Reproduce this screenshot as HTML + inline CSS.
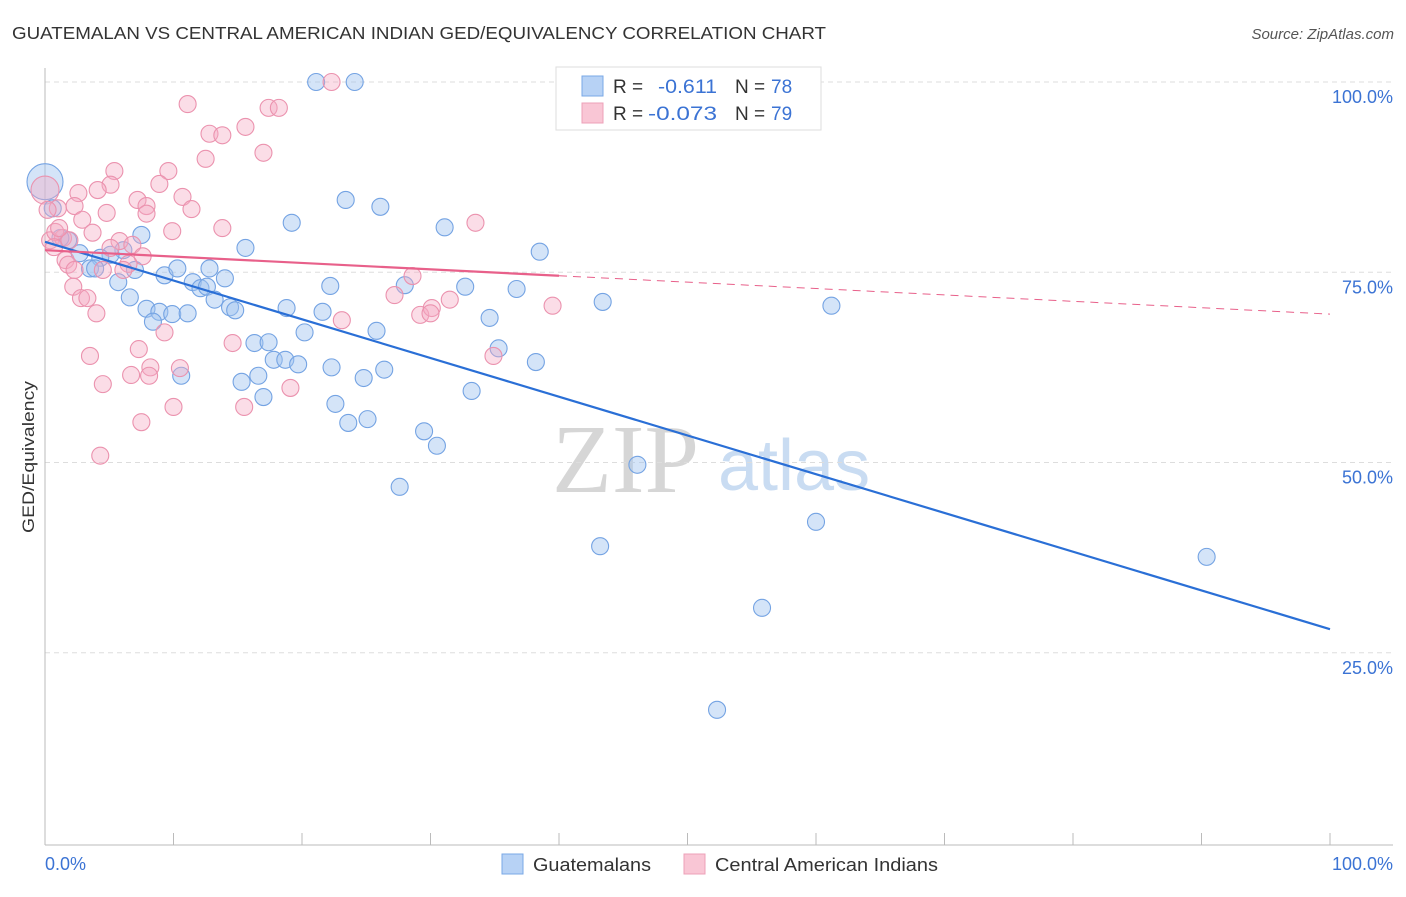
<!DOCTYPE html>
<html><head><meta charset="utf-8"><style>
body{margin:0;background:#fff;width:1406px;height:892px;overflow:hidden;font-family:"Liberation Sans",sans-serif}
</style></head><body>
<svg id="chart" width="1406" height="892" xmlns="http://www.w3.org/2000/svg" font-family="Liberation Sans, sans-serif">
<text x="12" y="39" font-size="17.5" fill="#333" textLength="814" lengthAdjust="spacingAndGlyphs">GUATEMALAN VS CENTRAL AMERICAN INDIAN GED/EQUIVALENCY CORRELATION CHART</text>
<text x="1394" y="39" font-size="15" fill="#555" text-anchor="end" font-style="italic">Source: ZipAtlas.com</text>
<text transform="translate(34,457) rotate(-90)" font-size="17" fill="#333" text-anchor="middle" textLength="152" lengthAdjust="spacingAndGlyphs">GED/Equivalency</text>
<g>
<text x="552" y="492" font-size="98" font-family="Liberation Serif, serif" fill="#d6d6d6">ZIP</text>
<text x="718" y="490" font-size="72" fill="#c9dcf2">atlas</text>
</g>
<g id="grid"></g><g id="axes"></g><g id="pts"></g><g id="lines"></g>
<g>
<rect x="556" y="67" width="265" height="63" fill="#fff" stroke="#ddd"/>
<rect x="582" y="76" width="21" height="20" fill="#b7d2f5" stroke="#7aa8e6"/>
<rect x="582" y="103" width="21" height="20" fill="#f9c6d5" stroke="#eda0b8"/>
<text x="613" y="93" font-size="19" fill="#333">R =</text>
<text x="658" y="93" font-size="19" fill="#3b73d4" textLength="59" lengthAdjust="spacingAndGlyphs">-0.611</text>
<text x="735" y="93" font-size="19" fill="#333">N =</text>
<text x="771" y="93" font-size="19" fill="#3b73d4">78</text>
<text x="613" y="120" font-size="19" fill="#333">R =</text>
<text x="648" y="120" font-size="19" fill="#3b73d4" textLength="69" lengthAdjust="spacingAndGlyphs">-0.073</text>
<text x="735" y="120" font-size="19" fill="#333">N =</text>
<text x="771" y="120" font-size="19" fill="#3b73d4">79</text>
</g>
<g>
<rect x="502" y="854" width="21" height="20" fill="#b7d2f5" stroke="#7aa8e6"/>
<text x="533" y="871" font-size="18" fill="#333" textLength="118" lengthAdjust="spacingAndGlyphs">Guatemalans</text>
<rect x="684" y="854" width="21" height="20" fill="#f9c6d5" stroke="#eda0b8"/>
<text x="715" y="871" font-size="18" fill="#333" textLength="223" lengthAdjust="spacingAndGlyphs">Central American Indians</text>
</g>
</svg>
<script>
const yTicks=[100,75,50,25];
const yTickLabels=["100.0%","75.0%","50.0%","25.0%"];
const xTickLabels=["0.0%","100.0%"];
const blueX=[21.1,24.1,0.6,23.4,26.1,19.2,31.1,38.5,15.6,7.5,1.8,1.2,6.1,5.1,4.3,2.7,3.5,3.9,7.0,9.3,10.3,12.8,14.0,11.5,12.1,12.6,5.7,6.6,13.2,14.4,14.8,7.9,8.9,9.9,11.1,8.4,18.8,21.6,22.2,28.0,32.7,36.7,43.4,61.2,34.6,25.8,20.2,16.3,17.4,35.3,38.2,17.8,18.7,19.7,22.3,26.4,24.8,10.6,15.3,16.6,33.2,17.0,22.6,23.6,25.1,29.5,30.5,46.1,27.6,60.0,43.2,90.4,55.8,52.3];
const blueY=[100,100,83.4,84.5,83.6,81.5,80.9,77.7,78.2,79.9,79.2,79.5,77.9,77.3,76.9,77.5,75.5,75.5,75.3,74.6,75.5,75.5,74.2,73.7,72.9,73.1,73.7,71.7,71.4,70.4,70.0,70.2,69.8,69.5,69.6,68.5,70.3,69.8,73.2,73.3,73.1,72.8,71.1,70.6,69.0,67.3,67.1,65.7,65.8,65.0,63.2,63.5,63.5,62.9,62.5,62.2,61.1,61.4,60.6,61.4,59.4,58.6,57.7,55.2,55.7,54.1,52.2,49.7,46.8,42.2,39.0,37.6,30.9,17.5];
const pinkX=[22.3,11.1,17.4,18.2,15.6,12.8,13.8,12.5,17.0,5.4,9.6,5.1,8.9,4.1,2.6,10.7,11.4,7.2,7.9,7.9,4.8,1.0,0.2,2.3,2.9,9.9,13.8,33.5,3.7,0.4,1.4,1.9,0.8,5.8,6.8,7.6,5.1,6.5,6.1,1.6,1.8,2.3,4.5,28.6,2.2,27.2,2.8,3.3,4.0,29.2,30.1,30.0,31.5,39.5,23.1,9.3,14.6,7.3,3.5,8.2,10.5,6.7,8.1,19.1,4.5,10.0,15.5,7.5,4.3,34.9,1.1,0.7];
const pinkY=[100,97.1,96.6,96.6,94.1,93.2,93.0,89.9,90.7,88.3,88.3,86.5,86.6,85.8,85.4,84.9,83.3,84.5,83.7,82.7,82.8,83.4,83.2,83.7,81.9,80.4,80.8,81.5,80.2,79.2,79.5,79.2,80.3,79.1,78.6,77.1,78.2,76.1,75.3,76.6,76.0,75.3,75.3,74.5,73.1,72.0,71.6,71.6,69.6,69.4,70.3,69.6,71.4,70.6,68.7,67.1,65.7,64.9,64.0,62.5,62.4,61.5,61.4,59.8,60.3,57.3,57.3,55.3,50.9,64.0,80.8,78.3];
const bigBlue=[0,86.9];
const bigPink=[0,85.8];
const blueTrend=[79.0,28.1];
const pinkTrend=[77.9,69.5];
const pinkSolidEnd=40;
const NS="http://www.w3.org/2000/svg";
const X0=45,X1=1330,Y0=843,Y100=82;
function sx(v){return X0+(X1-X0)*v/100;}
function sy(v){return Y0-(Y0-Y100)*v/100;}
function mk(tag,attrs,parent){const e=document.createElementNS(NS,tag);for(const k in attrs)e.setAttribute(k,attrs[k]);parent.appendChild(e);return e;}
const grid=document.getElementById('grid'),axes=document.getElementById('axes'),pts=document.getElementById('pts'),lines=document.getElementById('lines');
yTicks.forEach((t,i)=>{
 const l=mk('line',{x1:X0,x2:1393,y1:sy(t),y2:sy(t),stroke:'#ddd','stroke-dasharray':'5,4'},grid);
 
 
 const tx=mk('text',{x:1393,y:sy(t)+21,'font-size':18,fill:'#3b73d4','text-anchor':'end'},grid);
 tx.textContent=yTickLabels[i];
 
 
});
const ax=mk('line',{x1:X0,x2:X0,y1:68,y2:845,stroke:'#bbb'},axes);


const bx=mk('line',{x1:X0,x2:1393,y1:845,y2:845,stroke:'#bbb'},axes);


for(let i=0;i<=10;i++){
 const t=mk('line',{x1:sx(i*10),x2:sx(i*10),y1:833,y2:845,stroke:'#bbb'},axes);
 
 
}
[[0,'start',45],[100,'end',1393]].forEach((d,i)=>{
 const t=mk('text',{x:d[2],y:870,'font-size':18,fill:'#3b73d4','text-anchor':d[1]},axes);
 t.textContent=xTickLabels[i];
 
 
});
function dot(x,y,r,blue){
 const c=mk('circle',{cx:sx(x),cy:sy(y),r:r,fill:blue?'rgba(160,195,240,0.45)':'rgba(245,170,195,0.4)',stroke:blue?'#74a3e3':'#eb92ae','stroke-width':1.1},pts);
 
 
}
dot(bigBlue[0],bigBlue[1],18,true);
dot(bigPink[0],bigPink[1],14,false);
blueX.forEach((x,i)=>dot(x,blueY[i],8.5,true));
pinkX.forEach((x,i)=>dot(x,pinkY[i],8.5,false));
function ty(tr,x){return tr[0]+(tr[1]-tr[0])*x/100;}
const bl=mk('line',{x1:sx(0),y1:sy(blueTrend[0]),x2:sx(100),y2:sy(blueTrend[1]),stroke:'#2a6fd6','stroke-width':2.2},lines);


const pl=mk('line',{x1:sx(0),y1:sy(pinkTrend[0]),x2:sx(pinkSolidEnd),y2:sy(ty(pinkTrend,pinkSolidEnd)),stroke:'#e8608a','stroke-width':2.2},lines);


const pd=mk('line',{x1:sx(pinkSolidEnd),y1:sy(ty(pinkTrend,pinkSolidEnd)),x2:sx(100),y2:sy(pinkTrend[1]),stroke:'#e8608a','stroke-width':1,'stroke-dasharray':'8,6'},lines);


</script>
</body></html>
